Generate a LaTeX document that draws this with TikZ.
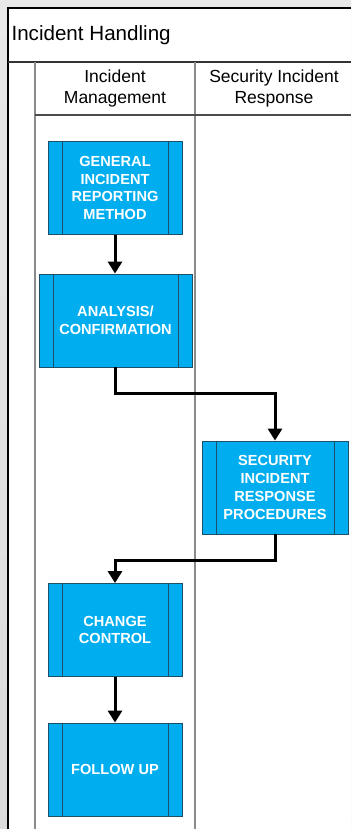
\documentclass[tikz,border=0pt]{standalone}
\usepackage{fontspec}
\setmainfont{Liberation Sans}
\usetikzlibrary{arrows.meta}
\definecolor{boxblue}{HTML}{00AEEF}
\definecolor{boxline}{HTML}{1F4E6B}
\definecolor{lanegray}{HTML}{8A8A8A}
\tikzset{
  proc/.style={draw=boxline, line width=0.9pt, fill=boxblue, minimum width=134pt, minimum height=93pt, inner sep=0pt,
    text=white, font=\fontsize{14.6}{17.8}\selectfont\bfseries, align=center},
  wide/.style={minimum width=153pt},
  side/.style={draw=boxline, line width=0.9pt},
  flow/.style={line width=3pt, -{Triangle[length=12pt,width=14pt]}},
  lane/.style={draw=lanegray, line width=1.4pt},
  hdr/.style={font=\fontsize{17.5}{21}\selectfont, align=center},
}
\begin{document}
\begin{tikzpicture}[x=1pt,y=-1pt]
\useasboundingbox (0,0) rectangle (351,829);
\shade[top color=gray!18, bottom color=gray!28] (0,0) rectangle (351,829);
\fill[white] (8,8) rectangle (351,829);
% frame
\draw[black, line width=1.2pt] (8,829) -- (8,8) -- (351,8);
\draw[black!80, line width=1.2pt] (8,62) -- (351,62);
\draw[lane] (35,62) -- (35,829);
\draw[lane] (195,62) -- (195,829);
\draw[black!70, line width=1.1pt] (35,115) -- (351,115);
% headings
\node[anchor=west, font=\fontsize{20.6}{24}\selectfont] (title) at (8,35) {Incident Handling};
\node[hdr] (h1) at (115,88) {Incident\\Management};
\node[hdr] (h2) at (274,88) {Security Incident\\Response};
% boxes
\node[proc] (b1) at (115,188) {GENERAL\\INCIDENT\\REPORTING\\METHOD};
\draw[side] (62,141.5) -- (62,234.5) (168,141.5) -- (168,234.5);
\node[proc, wide] (b2) at (115.5,320.5) {ANALYSIS/\\CONFIRMATION};
\draw[side] (53,274) -- (53,367) (178,274) -- (178,367);
\node[proc, minimum width=146pt] (b3) at (275,487.5) {SECURITY\\INCIDENT\\RESPONSE\\PROCEDURES};
\draw[side] (216,441) -- (216,534) (334,441) -- (334,534);
\node[proc] (b4) at (115,630) {CHANGE\\CONTROL};
\draw[side] (62,583.5) -- (62,676.5) (168,583.5) -- (168,676.5);
\node[proc] (b5) at (115,769.5) {FOLLOW UP};
\draw[side] (62,723) -- (62,816) (168,723) -- (168,816);
% connectors
\coordinate (c1) at (115,393);
\coordinate (c2) at (275,393);
\coordinate (c3) at (275,560);
\coordinate (c4) at (115,560);
\draw[flow] (b1.south) -- (b1.south |- b2.north);
\draw[flow] (b2.south -| c1) -- (c1) -- (c2) -- (b3.north);
\draw[flow] (b3.south) -- (c3) -- (c4) -- (c4 |- b4.north);
\draw[flow] (b4.south) -- (b5.north);
\end{tikzpicture}
\end{document}
